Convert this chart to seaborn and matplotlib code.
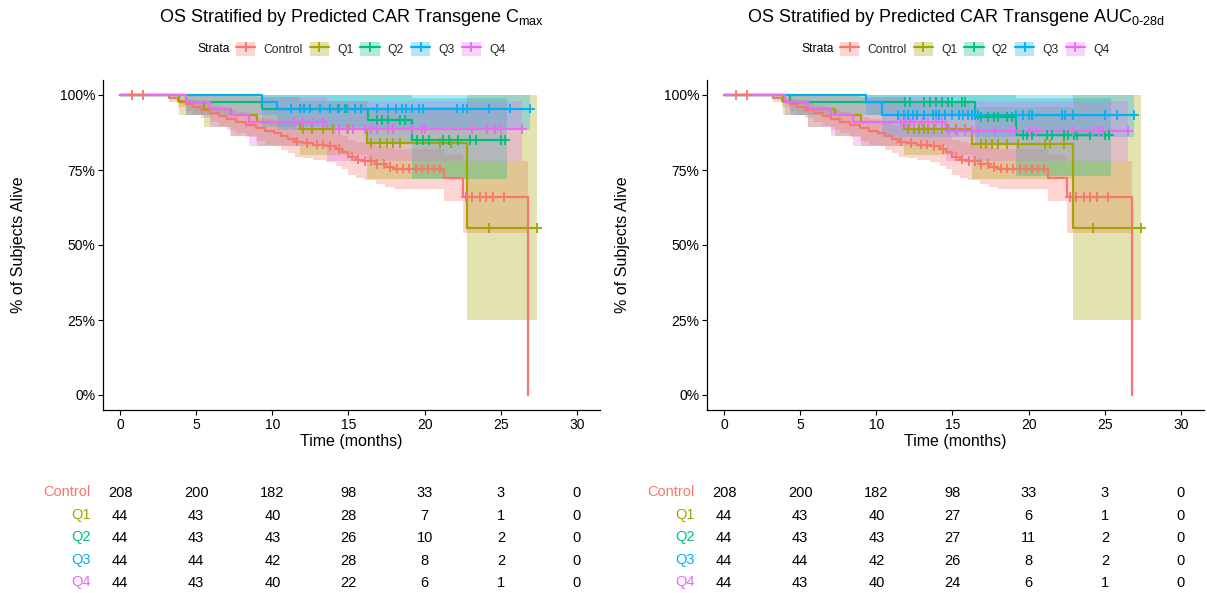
import numpy as np
import pandas as pd
import matplotlib
matplotlib.use("Agg")
import matplotlib.pyplot as plt
import seaborn as sns
from matplotlib.patches import Patch
from matplotlib.lines import Line2D
from matplotlib.ticker import PercentFormatter

sns.set_theme(style="white")
plt.rcParams["font.family"] = ["Liberation Sans", "DejaVu Sans"]
plt.rcParams["mathtext.fontset"] = "custom"
plt.rcParams["mathtext.rm"] = "Liberation Sans"
plt.rcParams["mathtext.it"] = "Liberation Sans:italic"
plt.rcParams["mathtext.bf"] = "Liberation Sans:bold"

# ---------------------------------------------------------------- data
strata = ["Control", "Q1", "Q2", "Q3", "Q4"]
colors = ["#F8766D", "#A3A500", "#00BF7D", "#00B0F6", "#E76BF3"]
time_ticks = [0, 5, 10, 15, 20, 25, 30]

# Control arm (shared by both panels): event times, survival, 95% CI
ctrl_time = [0, 3.2, 3.8, 4.3, 4.8, 5.3, 5.9, 6.5, 7.0, 7.6, 8.3, 8.9, 9.5, 10.1, 10.6,
             11.0, 11.5, 12.0, 12.7, 13.5, 14.2, 14.6, 15.0, 15.5, 16.0, 16.8, 17.4,
             18.0, 21.3, 22.5, 26.8]
ctrl_surv = [1.0, 0.99, 0.98, 0.97, 0.96, 0.95, 0.94, 0.93, 0.92, 0.91, 0.90, 0.89, 0.88,
             0.875, 0.865, 0.855, 0.845, 0.84, 0.835, 0.83, 0.82, 0.81, 0.795, 0.785, 0.78,
             0.77, 0.76, 0.755, 0.725, 0.66, 0.0]
ctrl_lower = [1.0, 0.976, 0.961, 0.948, 0.935, 0.922, 0.91, 0.897, 0.885, 0.873, 0.86,
              0.848, 0.835, 0.829, 0.818, 0.806, 0.795, 0.789, 0.782, 0.776, 0.764, 0.752,
              0.735, 0.724, 0.717, 0.705, 0.694, 0.688, 0.648, 0.54, np.nan]
ctrl_upper = [1.0, 1.0, 0.995, 0.988, 0.981, 0.974, 0.967, 0.959, 0.951, 0.943, 0.935,
              0.927, 0.919, 0.915, 0.907, 0.899, 0.891, 0.887, 0.883, 0.879, 0.871, 0.863,
              0.851, 0.843, 0.839, 0.831, 0.823, 0.82, 0.80, 0.78, np.nan]
ctrl_end = 26.8
ctrl_censor = [0.8, 1.5, 11.6, 12.3, 12.9, 13.3, 13.8, 14.4, 15.2, 15.6, 16.1, 16.5, 16.9,
               17.3, 17.7, 18.2, 18.6, 19.0, 19.4, 19.8, 20.2, 20.6, 21.0, 22.7, 23.1,
               23.6, 24.0, 24.5, 25.2]

# Quartiles of predicted Cmax
cmax_q1_time = [0, 3.9, 5.5, 7.3, 9.0, 11.8, 16.2, 22.8]
cmax_q1_surv = [1.0, 0.977, 0.955, 0.932, 0.909, 0.886, 0.84, 0.557]
cmax_q1_lower = [1.0, 0.934, 0.895, 0.862, 0.83, 0.80, 0.72, 0.25]
cmax_q1_upper = [1.0, 1.0, 1.0, 1.0, 0.995, 0.98, 0.96, 1.0]
cmax_q1_end = 27.4
cmax_q1_censor = [12.0, 12.6, 13.3, 14.0, 15.0, 16.5, 17.1, 17.5, 17.9, 18.4, 21.0, 21.7,
                  24.2, 27.4]

cmax_q2_time = [0, 4.3, 9.3, 16.3, 19.2]
cmax_q2_surv = [1.0, 0.977, 0.955, 0.917, 0.85]
cmax_q2_lower = [1.0, 0.934, 0.895, 0.84, 0.72]
cmax_q2_upper = [1.0, 1.0, 1.0, 1.0, 0.99]
cmax_q2_end = 25.4
cmax_q2_censor = [13.8, 14.3, 14.8, 16.9, 17.2, 17.6, 18.4, 18.7, 19.5, 19.9, 20.3, 21.2,
                  21.6, 22.2, 23.0, 23.4, 25.0, 25.3]

cmax_q3_time = [0, 9.3, 10.3]
cmax_q3_surv = [1.0, 0.977, 0.955]
cmax_q3_lower = [1.0, 0.934, 0.885]
cmax_q3_upper = [1.0, 1.0, 1.0]
cmax_q3_end = 26.9
cmax_q3_censor = [11.2, 11.8, 12.1, 12.5, 13.1, 13.8, 14.4, 14.9, 15.4, 15.8, 16.9, 17.6,
                  18.1, 18.5, 18.8, 19.2, 19.6, 19.9, 22.1, 22.5, 22.8, 24.2, 25.6, 26.9]

cmax_q4_time = [0, 4.3, 5.9, 7.2, 8.5, 13.6]
cmax_q4_surv = [1.0, 0.977, 0.955, 0.932, 0.909, 0.886]
cmax_q4_lower = [1.0, 0.934, 0.895, 0.862, 0.83, 0.78]
cmax_q4_upper = [1.0, 1.0, 1.0, 1.0, 0.995, 0.98]
cmax_q4_end = 26.4
cmax_q4_censor = [11.4, 12.0, 12.7, 13.3, 14.4, 14.9, 15.3, 16.1, 16.5, 16.9, 17.6, 17.9,
                  19.2, 19.8, 20.0, 23.1, 24.1, 24.6, 25.0, 26.4]

# Quartiles of predicted AUC(0-28d)
auc_q1_time = [0, 3.9, 5.5, 7.3, 9.0, 11.8, 16.3, 22.9]
auc_q1_surv = [1.0, 0.977, 0.955, 0.932, 0.909, 0.886, 0.837, 0.557]
auc_q1_lower = [1.0, 0.934, 0.895, 0.862, 0.83, 0.80, 0.72, 0.25]
auc_q1_upper = [1.0, 1.0, 1.0, 1.0, 0.995, 0.98, 0.96, 1.0]
auc_q1_end = 27.4
auc_q1_censor = [12.1, 12.5, 12.8, 13.1, 13.4, 13.8, 14.3, 14.7, 15.2, 15.8, 16.9, 17.2,
                 17.6, 18.0, 18.6, 19.3, 21.1, 21.4, 22.3, 24.2, 27.4]

auc_q2_time = [0, 4.3, 16.5, 19.2]
auc_q2_surv = [1.0, 0.977, 0.927, 0.867]
auc_q2_lower = [1.0, 0.934, 0.84, 0.73]
auc_q2_upper = [1.0, 1.0, 1.0, 0.99]
auc_q2_end = 25.4
auc_q2_censor = [11.9, 12.2, 13.1, 13.5, 13.9, 14.3, 14.7, 15.0, 15.6, 15.8, 16.9, 17.3,
                 17.7, 18.0, 18.6, 18.9, 19.6, 19.9, 20.2, 21.2, 21.5, 22.3, 22.6, 23.0,
                 23.2, 24.0, 25.0, 25.3]

auc_q3_time = [0, 9.3, 10.4]
auc_q3_surv = [1.0, 0.977, 0.932]
auc_q3_lower = [1.0, 0.934, 0.86]
auc_q3_upper = [1.0, 1.0, 1.0]
auc_q3_end = 26.9
auc_q3_censor = [11.4, 11.8, 12.1, 12.4, 12.7, 13.1, 13.7, 13.9, 14.1, 14.5, 15.0, 15.4,
                 15.7, 16.0, 16.3, 16.5, 16.7, 19.2, 19.6, 20.0, 20.2, 22.2, 22.4, 22.9,
                 25.0, 25.8, 26.9]

auc_q4_time = [0, 4.0, 5.5, 7.0, 8.5, 14.6]
auc_q4_surv = [1.0, 0.977, 0.955, 0.932, 0.909, 0.88]
auc_q4_lower = [1.0, 0.934, 0.895, 0.862, 0.83, 0.78]
auc_q4_upper = [1.0, 1.0, 1.0, 1.0, 0.995, 0.98]
auc_q4_end = 26.5
auc_q4_censor = [11.6, 11.9, 12.2, 12.5, 13.0, 13.4, 13.9, 14.3, 14.8, 15.3, 15.8, 16.3,
                 16.7, 17.8, 18.8, 19.1, 20.1, 20.5, 22.9, 24.2, 24.6, 24.9, 26.5]

# Numbers at risk at 0, 5, ..., 30 months
risk_ctrl = [208, 200, 182, 98, 33, 3, 0]
cmax_risk_q1 = [44, 43, 40, 28, 7, 1, 0]
cmax_risk_q2 = [44, 43, 43, 26, 10, 2, 0]
cmax_risk_q3 = [44, 44, 42, 28, 8, 2, 0]
cmax_risk_q4 = [44, 43, 40, 22, 6, 1, 0]
auc_risk_q1 = [44, 43, 40, 27, 6, 1, 0]
auc_risk_q2 = [44, 43, 43, 27, 11, 2, 0]
auc_risk_q3 = [44, 44, 42, 26, 8, 2, 0]
auc_risk_q4 = [44, 43, 40, 24, 6, 1, 0]

titles = [r"OS Stratified by Predicted CAR Transgene C$_{\mathrm{max}}$",
          r"OS Stratified by Predicted CAR Transgene AUC$_{\mathrm{0\text{-}28d}}$"]

# ---------------------------------------------------------------- assemble
palette = dict(zip(strata, colors))


def curve(time, surv, lower, upper, end, censor):
    return dict(time=time, surv=surv, lower=lower, upper=upper, end=end, censor=censor)


ctrl_curve = curve(ctrl_time, ctrl_surv, ctrl_lower, ctrl_upper, ctrl_end, ctrl_censor)
panels = [
    dict(curves={"Control": ctrl_curve,
                 "Q1": curve(cmax_q1_time, cmax_q1_surv, cmax_q1_lower, cmax_q1_upper, cmax_q1_end, cmax_q1_censor),
                 "Q2": curve(cmax_q2_time, cmax_q2_surv, cmax_q2_lower, cmax_q2_upper, cmax_q2_end, cmax_q2_censor),
                 "Q3": curve(cmax_q3_time, cmax_q3_surv, cmax_q3_lower, cmax_q3_upper, cmax_q3_end, cmax_q3_censor),
                 "Q4": curve(cmax_q4_time, cmax_q4_surv, cmax_q4_lower, cmax_q4_upper, cmax_q4_end, cmax_q4_censor)},
         risk={"Control": risk_ctrl, "Q1": cmax_risk_q1, "Q2": cmax_risk_q2,
               "Q3": cmax_risk_q3, "Q4": cmax_risk_q4},
         title=titles[0], x0=103),
    dict(curves={"Control": ctrl_curve,
                 "Q1": curve(auc_q1_time, auc_q1_surv, auc_q1_lower, auc_q1_upper, auc_q1_end, auc_q1_censor),
                 "Q2": curve(auc_q2_time, auc_q2_surv, auc_q2_lower, auc_q2_upper, auc_q2_end, auc_q2_censor),
                 "Q3": curve(auc_q3_time, auc_q3_surv, auc_q3_lower, auc_q3_upper, auc_q3_end, auc_q3_censor),
                 "Q4": curve(auc_q4_time, auc_q4_surv, auc_q4_lower, auc_q4_upper, auc_q4_end, auc_q4_censor)},
         risk={"Control": risk_ctrl, "Q1": auc_risk_q1, "Q2": auc_risk_q2,
               "Q3": auc_risk_q3, "Q4": auc_risk_q4},
         title=titles[1], x0=707),
]

# ---------------------------------------------------------------- figure
W, H = 1207, 593
fig = plt.figure(figsize=(W / 100, H / 100), dpi=100)
fig.patch.set_facecolor("white")


def px_axes(x0, y0, x1, y1):
    return fig.add_axes([x0 / W, 1 - y1 / H, (x1 - x0) / W, (y1 - y0) / H])


XLIM = (-1.116, 31.51)
PANEL_W = 497

for p in panels:
    x0 = p["x0"]
    ax = px_axes(x0, 80, x0 + PANEL_W, 410)
    ax.set_facecolor("white")

    line_rows, cens_rows = [], []
    for name in strata:
        c = p["curves"][name]
        t = list(c["time"]) + [c["end"]]
        s = list(c["surv"]) + [c["surv"][-1]]
        lo = pd.Series(list(c["lower"]) + [np.nan]).ffill().to_numpy()
        hi = pd.Series(list(c["upper"]) + [np.nan]).ffill().to_numpy()
        ax.fill_between(t, lo, hi, step="post", color=palette[name], alpha=0.3,
                        linewidth=0, zorder=1)
        line_rows += [dict(time=a, surv=b, Strata=name) for a, b in zip(t, s)]
        idx = np.searchsorted(c["time"], c["censor"], side="right") - 1
        cens_rows += [dict(time=a, surv=c["surv"][i], Strata=name)
                      for a, i in zip(c["censor"], idx)]

    lines = pd.DataFrame(line_rows)
    cens = pd.DataFrame(cens_rows)
    sns.lineplot(data=lines, x="time", y="surv", hue="Strata", hue_order=strata,
                 palette=palette, estimator=None, sort=False, drawstyle="steps-post",
                 linewidth=1.6, legend=False, ax=ax, zorder=2)
    sns.scatterplot(data=cens, x="time", y="surv", hue="Strata", hue_order=strata,
                    palette=palette, marker="+", s=50, linewidth=1.3, legend=False,
                    ax=ax, zorder=3)

    ax.set_xlim(*XLIM)
    ax.set_ylim(-0.05, 1.05)
    ax.set_xticks(time_ticks)
    ax.set_yticks([0, 0.25, 0.5, 0.75, 1.0])
    ax.yaxis.set_major_formatter(PercentFormatter(1.0, decimals=0))
    for side in ["top", "right"]:
        ax.spines[side].set_visible(False)
    for side in ["left", "bottom"]:
        ax.spines[side].set_color("black")
        ax.spines[side].set_linewidth(0.9)
    ax.tick_params(axis="both", which="both", direction="out", length=3.5, width=0.8,
                   color="black", labelcolor="black", labelsize=10, pad=2,
                   bottom=True, left=True)
    ax.set_xlabel("Time (months)", fontsize=11.5, color="black")
    ax.xaxis.set_label_coords(0.5, -0.072)
    ax.set_ylabel("% of Subjects Alive", fontsize=11.5, color="black")
    ax.yaxis.set_label_coords(-0.155, 0.5)
    ax.grid(False)

    # title and legend
    cx = x0 + PANEL_W / 2
    fig.text(cx / W, 1 - 18 / H, p["title"], ha="center", va="center",
             fontsize=13, color="black")
    fig.text((x0 + 94) / W, 1 - 49 / H, "Strata", ha="left", va="center",
             fontsize=8.7, color="black")
    handles = [(Patch(facecolor=palette[n], alpha=0.3, edgecolor="none"),
                Line2D([], [], color=palette[n], linewidth=1.6, marker="+",
                       markersize=7, markeredgewidth=1.3))
               for n in strata]
    fig.legend(handles, strata, loc="center left",
               bbox_to_anchor=((x0 + 133) / W, 1 - 49 / H),
               bbox_transform=fig.transFigure, ncol=5, frameon=False, fontsize=8.7,
               handlelength=1.6, handleheight=1.35, handletextpad=0.65,
               columnspacing=0.6, borderpad=0, borderaxespad=0)

    # numbers-at-risk table
    tab = px_axes(x0, 482, x0 + PANEL_W, 594.5)
    tab.set_xlim(*XLIM)
    tab.set_ylim(4.5, -0.5)
    tab.axis("off")
    for i, name in enumerate(strata):
        tab.text(-1.95, i - 0.05, name, ha="right", va="center", fontsize=10.5,
                 color=palette[name], clip_on=False)
        for tt, n in zip(time_ticks, p["risk"][name]):
            tab.text(tt, i, str(n), ha="center", va="center", fontsize=10.5,
                     color="black", clip_on=False)

fig.savefig("out.png", dpi=100, facecolor="white")
